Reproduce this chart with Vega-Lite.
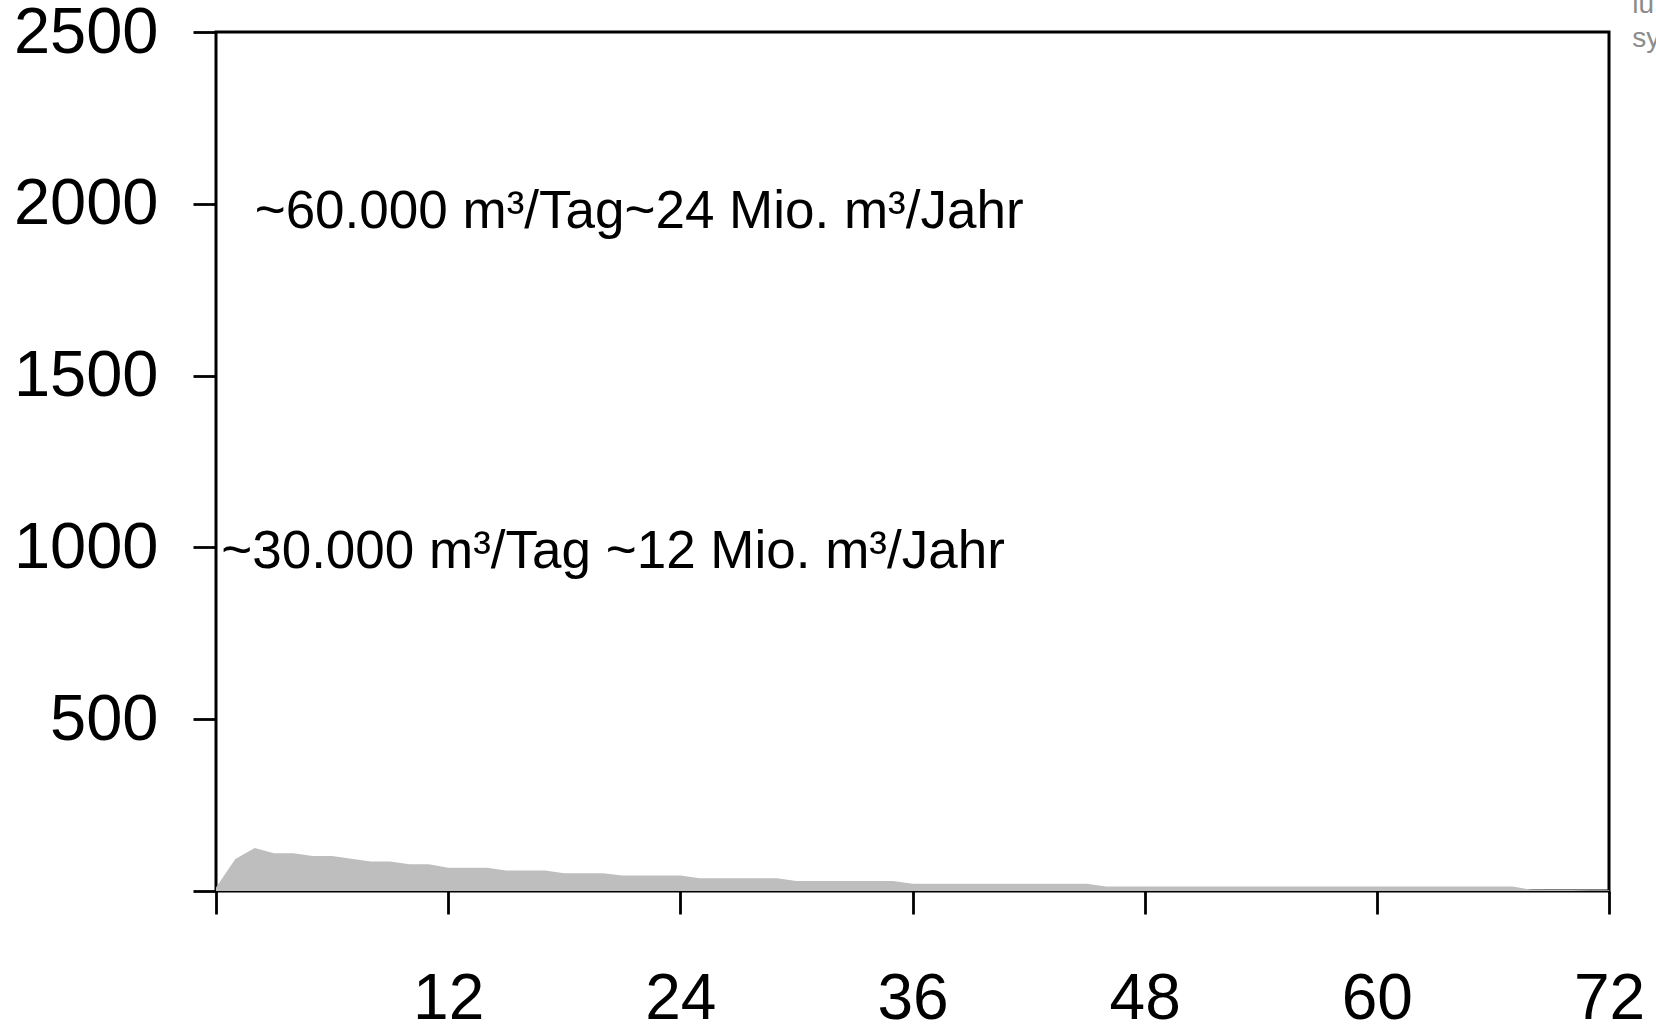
{
  "$schema": "https://vega.github.io/schema/vega-lite/v6.json",
  "autosize": {"type": "none"},
  "width": 1393,
  "height": 859,
  "padding": {"left": 216, "top": 32, "right": 47, "bottom": 133},
  "background": "white",
  "config": {
    "view": {"stroke": "black", "strokeWidth": 3},
    "font": "Liberation Sans"
  },
  "datasets": {
    "flow": [
      {"month": 0, "value": 10}, {"month": 1, "value": 93}, {"month": 2, "value": 125},
      {"month": 3, "value": 110}, {"month": 4, "value": 110}, {"month": 5, "value": 102},
      {"month": 6, "value": 102}, {"month": 7, "value": 94}, {"month": 8, "value": 86},
      {"month": 9, "value": 86}, {"month": 10, "value": 78}, {"month": 11, "value": 78},
      {"month": 12, "value": 68}, {"month": 13, "value": 68}, {"month": 14, "value": 68},
      {"month": 15, "value": 60}, {"month": 16, "value": 60}, {"month": 17, "value": 60},
      {"month": 18, "value": 52}, {"month": 19, "value": 52}, {"month": 20, "value": 52},
      {"month": 21, "value": 45}, {"month": 22, "value": 45}, {"month": 23, "value": 45},
      {"month": 24, "value": 45}, {"month": 25, "value": 37}, {"month": 26, "value": 37},
      {"month": 27, "value": 37}, {"month": 28, "value": 37}, {"month": 29, "value": 37},
      {"month": 30, "value": 29}, {"month": 31, "value": 29}, {"month": 32, "value": 29},
      {"month": 33, "value": 29}, {"month": 34, "value": 29}, {"month": 35, "value": 29},
      {"month": 36, "value": 21}, {"month": 37, "value": 21}, {"month": 38, "value": 21},
      {"month": 39, "value": 21}, {"month": 40, "value": 21}, {"month": 41, "value": 21},
      {"month": 42, "value": 21}, {"month": 43, "value": 21}, {"month": 44, "value": 21},
      {"month": 45, "value": 21}, {"month": 46, "value": 13}, {"month": 47, "value": 13},
      {"month": 48, "value": 13}, {"month": 49, "value": 13}, {"month": 50, "value": 13},
      {"month": 51, "value": 13}, {"month": 52, "value": 13}, {"month": 53, "value": 13},
      {"month": 54, "value": 13}, {"month": 55, "value": 13}, {"month": 56, "value": 13},
      {"month": 57, "value": 13}, {"month": 58, "value": 13}, {"month": 59, "value": 13},
      {"month": 60, "value": 13}, {"month": 61, "value": 13}, {"month": 62, "value": 13},
      {"month": 63, "value": 13}, {"month": 64, "value": 13}, {"month": 65, "value": 13},
      {"month": 66, "value": 13}, {"month": 67, "value": 13}, {"month": 68, "value": 4},
      {"month": 69, "value": 3}, {"month": 70, "value": 3}, {"month": 71, "value": 2},
      {"month": 72, "value": 2}
    ],
    "notes": [
      {"month": 2.0, "value": 1929, "label": "~60.000 m³/Tag~24 Mio. m³/Jahr"},
      {"month": 0.27, "value": 940, "label": "~30.000 m³/Tag ~12 Mio. m³/Jahr"}
    ],
    "side": [
      {"month": 73.2, "value": 2555, "label": "lu"},
      {"month": 73.2, "value": 2456, "label": "sy"}
    ]
  },
  "layer": [
    {
      "data": {"name": "flow"},
      "mark": {"type": "area", "color": "#bebebe", "interpolate": "linear"},
      "encoding": {
        "x": {
          "field": "month", "type": "quantitative",
          "scale": {"domain": [0, 72], "nice": false, "zero": false},
          "axis": {
            "values": [0, 12, 24, 36, 48, 60, 72],
            "format": "d",
            "labelExpr": "datum.value == 0 ? '' : datum.label",
            "title": null, "grid": false, "domain": false,
            "tickSize": 23, "tickWidth": 2.8, "tickColor": "black",
            "labelFont": "Liberation Sans", "labelFontSize": 64, "labelColor": "black",
            "labelPadding": 53, "labelFlush": false, "labelOverlap": false
          }
        },
        "y": {
          "field": "value", "type": "quantitative",
          "scale": {"domain": [0, 2500], "nice": false},
          "axis": {
            "values": [0, 500, 1000, 1500, 2000, 2500],
            "format": "d",
            "labelExpr": "datum.value == 0 ? '' : datum.label",
            "title": null, "grid": false, "domain": false,
            "tickSize": 23, "tickWidth": 2.8, "tickColor": "black",
            "labelFont": "Liberation Sans", "labelFontSize": 65, "labelColor": "black",
            "labelPadding": 35, "labelFlush": false, "labelOverlap": false
          }
        }
      }
    },
    {
      "data": {"name": "notes"},
      "mark": {"type": "text", "align": "left", "baseline": "alphabetic", "fontSize": 53, "font": "Liberation Sans", "color": "black", "clip": false},
      "encoding": {
        "x": {"field": "month", "type": "quantitative"},
        "y": {"field": "value", "type": "quantitative"},
        "text": {"field": "label"}
      }
    },
    {
      "data": {"name": "side"},
      "mark": {"type": "text", "align": "left", "baseline": "alphabetic", "fontSize": 28, "font": "Liberation Sans", "color": "#8c8c8c", "clip": false},
      "encoding": {
        "x": {"field": "month", "type": "quantitative"},
        "y": {"field": "value", "type": "quantitative"},
        "text": {"field": "label"}
      }
    }
  ]
}
